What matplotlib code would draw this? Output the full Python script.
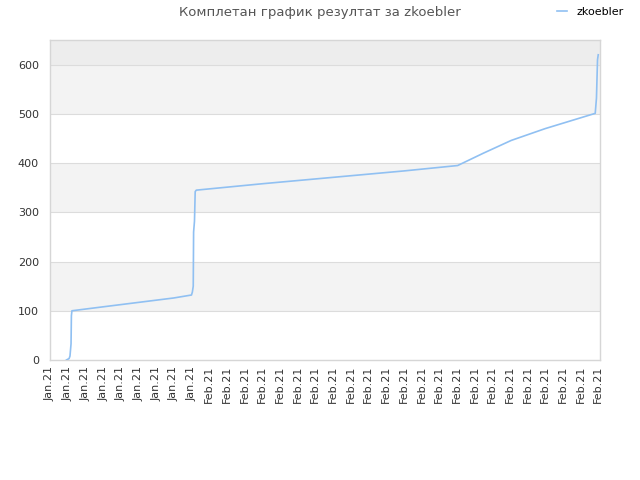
import matplotlib
matplotlib.use("Agg")
import matplotlib.pyplot as plt

# oznake na x osi (32 podeoka)
tick_labels = ["Jan.21"] * 9 + ["Feb.21"] * 23

# vreme (u jedinicama podeoka) i kumulativni rezultat
t = [0.93, 1.08, 1.13, 1.19, 1.21, 1.24, 3.0, 5.0, 7.0, 8.0,
     8.05, 8.10, 8.12, 8.17, 8.21, 8.27, 12.0, 16.0, 20.0, 23.05,
     24.5, 26.08, 28.0, 30.83, 30.90, 30.96, 31.0]
score = [0, 3, 8, 33, 90, 100, 108, 117, 126, 132,
         138, 150, 260, 282, 342, 345, 358, 371, 384, 395,
         420, 446, 470, 501, 532, 610, 620]

series_name = "zkoebler"
title = "Комплетан график резултат за zkoebler"

fig = plt.figure(figsize=(6.4, 4.8), dpi=100)
ax = fig.add_axes([50/640, 120/480, 550/640, 320/480])

# naizmenicne trake u pozadini
bands = [(0, 100, "white"), (100, 200, "#f3f3f3"), (200, 300, "white"),
         (300, 400, "#f3f3f3"), (400, 500, "white"), (500, 600, "#f3f3f3"),
         (600, 650, "#ededed")]
for lo, hi, c in bands:
    ax.axhspan(lo, hi, color=c, zorder=0, lw=0)
for yv in range(100, 700, 100):
    ax.axhline(yv, color="#dcdcdc", lw=0.8, zorder=1)

ax.plot(t, score, color="#90c0f2", lw=1.2, label=series_name, zorder=3)

ax.set_xlim(0, 31.1)
ax.set_ylim(0, 650)
ax.set_yticks(range(0, 700, 100))
ax.set_xticks(range(len(tick_labels)))
ax.set_xticklabels(tick_labels, rotation=90, fontsize=8, color="#333333")
ax.tick_params(axis="y", labelsize=8, labelcolor="#333333", length=0, pad=8)
ax.tick_params(axis="x", length=0, pad=4)
for s in ax.spines.values():
    s.set_color("#d6d6d6")
    s.set_linewidth(1)

fig.text(0.5, 0.974, title, ha="center", va="center", fontsize=9.5, color="#555555")
fig.legend(loc="center right", bbox_to_anchor=(0.99, 0.975), frameon=False,
           fontsize=8, handlelength=0.9, handletextpad=0.8)

fig.savefig("out.png", dpi=100)
